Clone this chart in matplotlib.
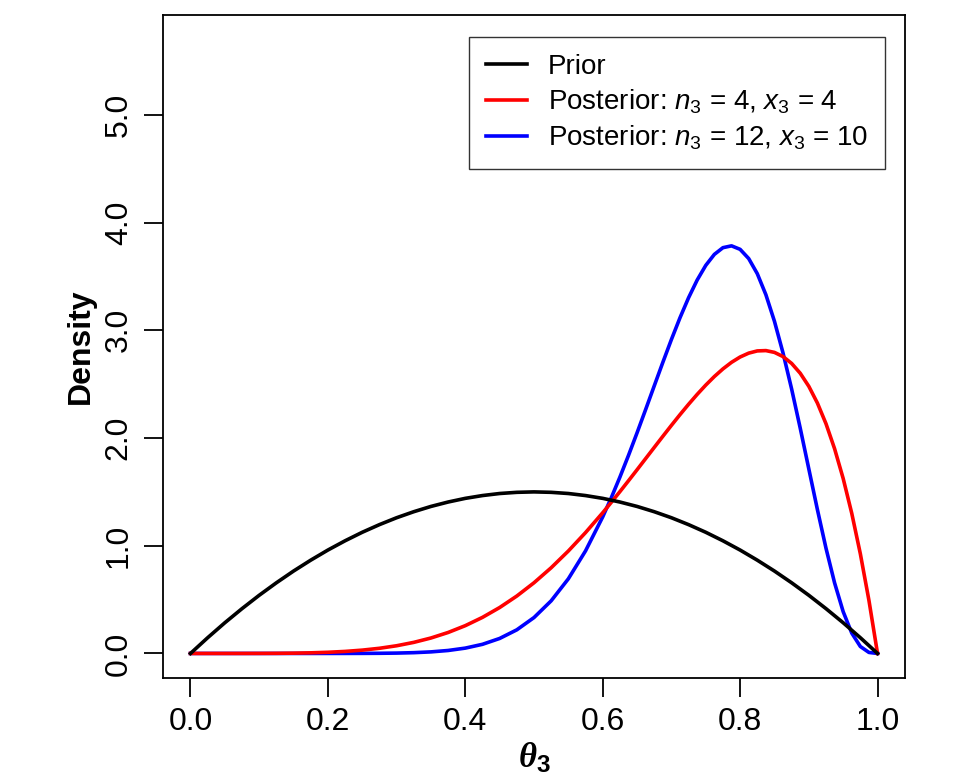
import matplotlib
matplotlib.use('Agg')
import matplotlib.pyplot as plt

# prior density
theta = [0.0, 0.025, 0.05, 0.075, 0.1, 0.125, 0.15, 0.175, 0.2, 0.225,
         0.25, 0.275, 0.3, 0.325, 0.35, 0.375, 0.4, 0.425, 0.45, 0.475,
         0.5, 0.525, 0.55, 0.575, 0.6, 0.625, 0.65, 0.675, 0.7, 0.725,
         0.75, 0.775, 0.8, 0.825, 0.85, 0.875, 0.9, 0.925, 0.95, 0.975, 1.0]

prior = [0.0, 0.146, 0.285, 0.416, 0.54, 0.656, 0.765, 0.866, 0.96, 1.046,
         1.125, 1.196, 1.26, 1.316, 1.365, 1.406, 1.44, 1.466, 1.485, 1.496,
         1.5, 1.496, 1.485, 1.466, 1.44, 1.406, 1.365, 1.316, 1.26, 1.196,
         1.125, 1.046, 0.96, 0.866, 0.765, 0.656, 0.54, 0.416, 0.285, 0.146, 0.0]

# posteriors, finer grid above 0.6 where the curves bend
theta_post = [0.0, 0.025, 0.05, 0.075, 0.1, 0.125, 0.15, 0.175, 0.2, 0.225,
              0.25, 0.275, 0.3, 0.325, 0.35, 0.375, 0.4, 0.425, 0.45, 0.475,
              0.5, 0.525, 0.55, 0.575, 0.6, 0.6125, 0.625, 0.6375, 0.65, 0.6625,
              0.675, 0.6875, 0.7, 0.7125, 0.725, 0.7375, 0.75, 0.7625, 0.775, 0.7875,
              0.8, 0.8125, 0.825, 0.8375, 0.85, 0.8625, 0.875, 0.8875, 0.9, 0.9125,
              0.925, 0.9375, 0.95, 0.9625, 0.975, 0.9875, 1.0]

post_4 = [0.0, 0.0, 0.0, 0.0001, 0.0004, 0.0011, 0.0027, 0.0057, 0.0108, 0.0188,
          0.0308, 0.0479, 0.0714, 0.1028, 0.1434, 0.1947, 0.258, 0.3349, 0.4263, 0.5332,
          0.6563, 0.7957, 0.9512, 1.122, 1.3064, 1.403, 1.502, 1.6031, 1.7056, 1.8092,
          1.9127, 2.0159, 2.1177, 2.2173, 2.3135, 2.4054, 2.4917, 2.5711, 2.642, 2.7031,
          2.7525, 2.7884, 2.809, 2.812, 2.7953, 2.7564, 2.6928, 2.6016, 2.4801, 2.3249,
          2.1331, 1.901, 1.6249, 1.301, 0.9252, 0.493, 0.0]

post_12 = [0.0, 0.0, 0.0, 0.0, 0.0, 0.0, 0.0, 0.0, 0.0001, 0.0002,
           0.0006, 0.0015, 0.0033, 0.0072, 0.0145, 0.0275, 0.0495, 0.0848, 0.1392, 0.2194,
           0.3333, 0.4887, 0.6931, 0.9522, 1.2678, 1.446, 1.6367, 1.8383, 2.0485, 2.2649,
           2.4842, 2.7023, 2.915, 3.117, 3.303, 3.4671, 3.6032, 3.7052, 3.7676, 3.7846,
           3.7521, 3.6665, 3.5261, 3.3311, 3.0837, 2.789, 2.4548, 2.0917, 1.7134, 1.3359,
           0.9771, 0.6554, 0.3882, 0.1891, 0.0646, 0.0093, 0.0]

plt.rcParams['font.family'] = ['Liberation Sans', 'DejaVu Sans']
plt.rcParams['mathtext.fontset'] = 'custom'
plt.rcParams['mathtext.it'] = 'Liberation Sans:italic'
plt.rcParams['mathtext.rm'] = 'Liberation Sans'
plt.rcParams['mathtext.bf'] = 'Liberation Sans:bold'
plt.rcParams['mathtext.bfit'] = 'Liberation Serif:italic:bold'

fig = plt.figure(figsize=(9.64, 7.78), dpi=100)
ax = fig.add_axes([163 / 964, 100 / 778, 742 / 964, 663 / 778])

ax.plot(theta_post, post_12, color='#0000ff', lw=2.6, zorder=2)
ax.plot(theta_post, post_4, color='#ff0000', lw=2.6, zorder=3)
ax.plot(theta, prior, color='black', lw=2.6, zorder=4)

ax.set_xlim(-0.04, 1.04)
ax.set_ylim(-0.228, 5.928)
ax.set_xticks([0.0, 0.2, 0.4, 0.6, 0.8, 1.0])
ax.set_xticklabels(['0.0', '0.2', '0.4', '0.6', '0.8', '1.0'])
ax.set_yticks([0.0, 1.0, 2.0, 3.0, 4.0, 5.0])
ax.set_yticklabels(['0.0', '1.0', '2.0', '3.0', '4.0', '5.0'], rotation=90, va='center')
ax.tick_params(direction='out', length=14, width=1.3, labelsize=23, pad=7)
for s in ax.spines.values():
    s.set_linewidth(1.3)

ax.set_ylabel('Density', fontsize=23, fontweight='bold', labelpad=6)
ax.set_xlabel(r'$\mathbfit{\theta}_{\mathbf{3}}$', fontsize=25, labelpad=2)

h1, = ax.plot([], [], color='black', lw=2.6)
h2, = ax.plot([], [], color='#ff0000', lw=2.6)
h3, = ax.plot([], [], color='#0000ff', lw=2.6)
leg = ax.legend([h1, h2, h3],
                ['Prior',
                 r'Posterior: $n_3$ = 4, $x_3$ = 4',
                 r'Posterior: $n_3$ = 12, $x_3$ = 10'],
                loc='upper right', bbox_to_anchor=(0.973, 0.967),
                prop={'size': 20},
                frameon=True, fancybox=False, edgecolor='black',
                handlelength=1.5, handletextpad=0.75, borderpad=0.6,
                labelspacing=0.28, borderaxespad=0)
leg.get_frame().set_linewidth(1.0)

fig.savefig('out.png', dpi=100)
